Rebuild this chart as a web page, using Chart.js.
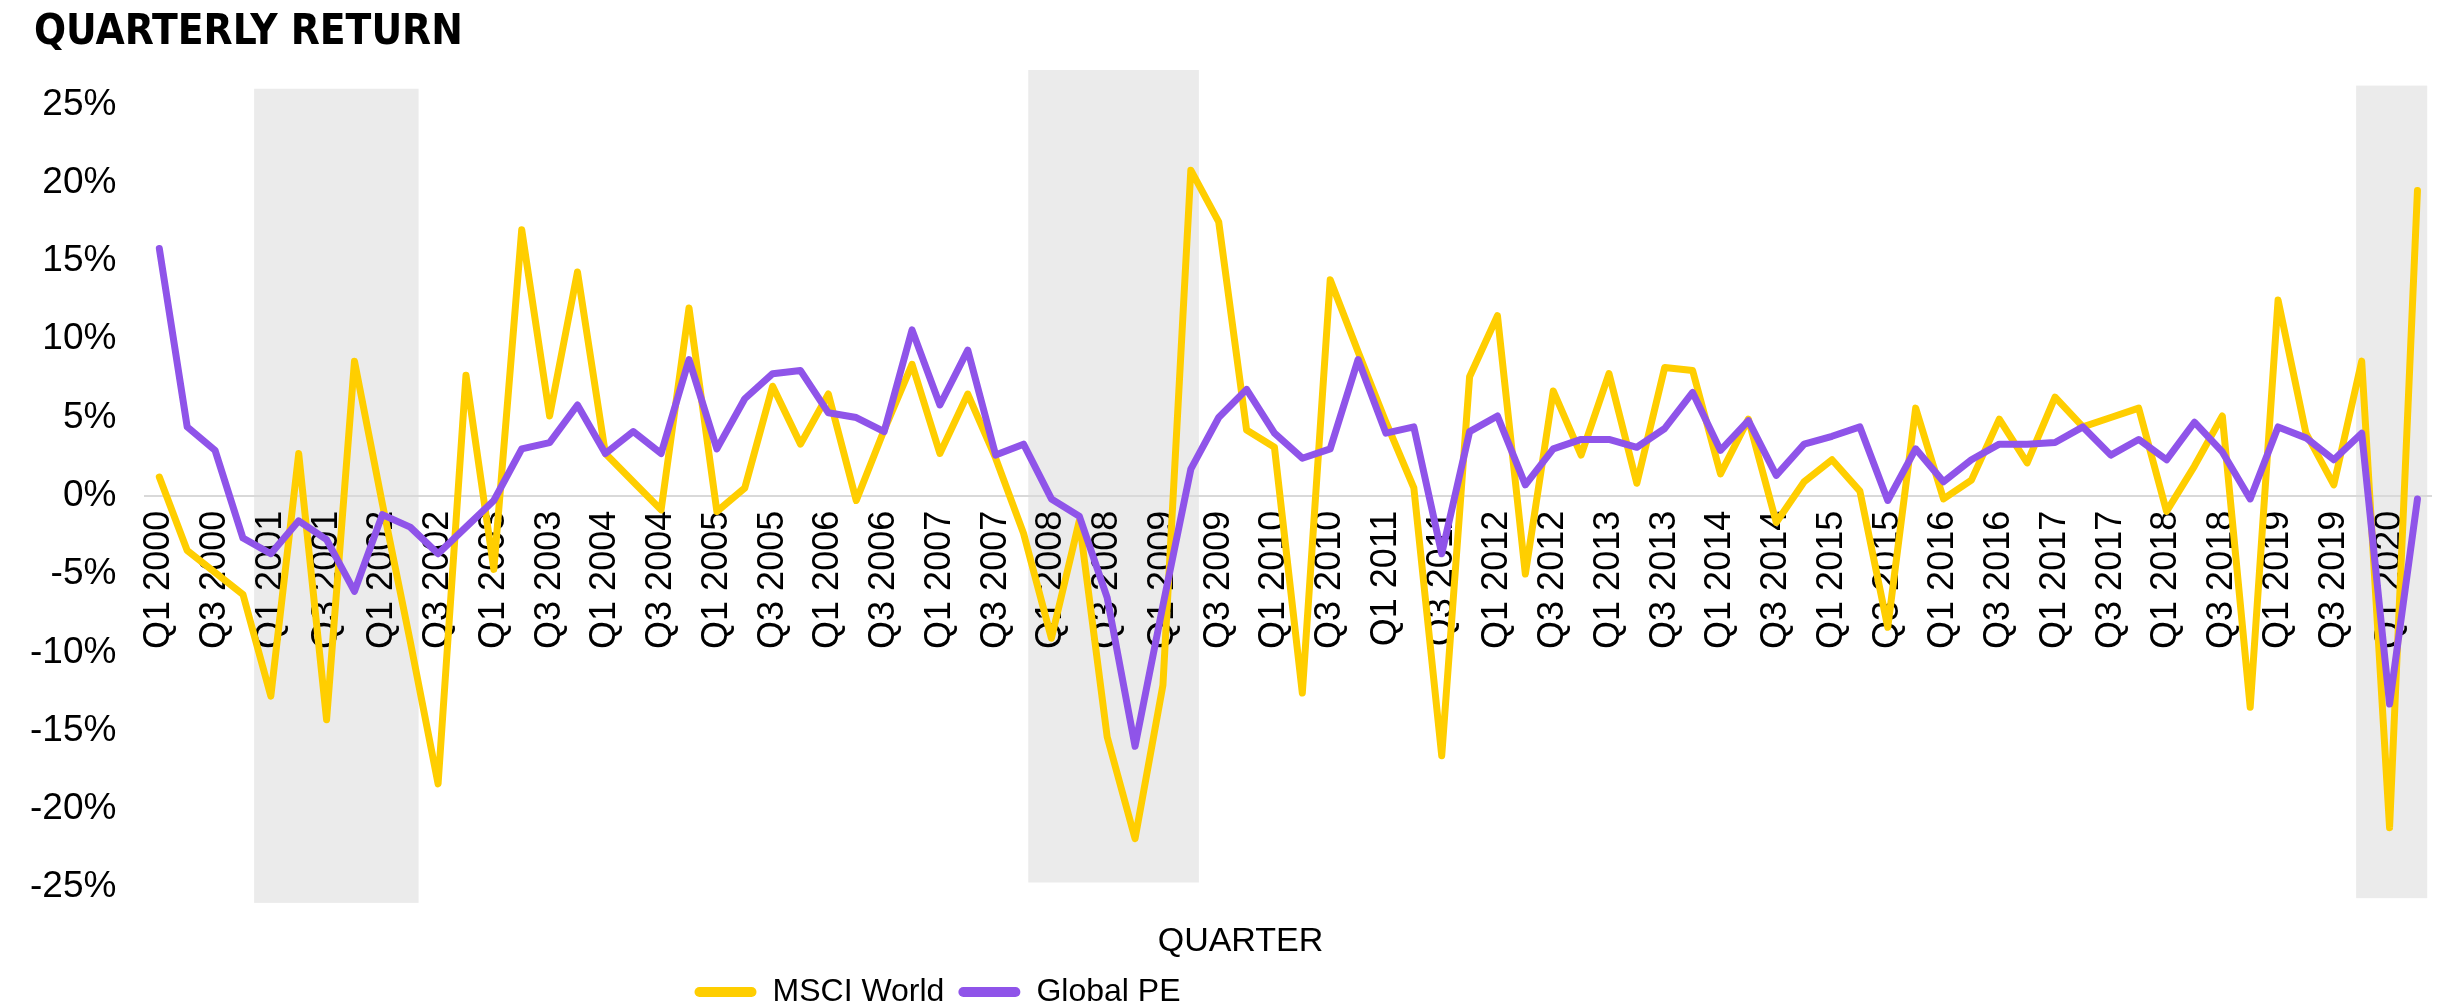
<!DOCTYPE html>
<html>
<head>
<meta charset="utf-8">
<script src="https://cdn.jsdelivr.net/npm/chart.js@4"></script>
<style>
  html, body { margin: 0; padding: 0; background: #fff; }
  #wrap { width: 2448px; height: 1008px; position: relative; }
</style>
</head>
<body>
<div id="wrap"><canvas id="returnsChart"></canvas></div>
<script>
// quarters Q1 2000 .. Q2 2020
const years = [2000, 2001, 2002, 2003, 2004, 2005, 2006, 2007, 2008, 2009, 2010,
  2011, 2012, 2013, 2014, 2015, 2016, 2017, 2018, 2019, 2020];
const quarterNames = ["Q1", "Q2", "Q3", "Q4"];
const quarters = [];
years.forEach(yr => quarterNames.forEach(q => quarters.push(q + " " + yr)));
quarters.length = 82; // series ends at Q2 2020

// quarterly returns in %
const msciWorld = [
  1.2, -3.5, -4.9, -6.3,
  -12.8, 2.7, -14.3, 8.6,
  -0.5, -9.3, -18.4, 7.7,
  -4.7, 17.0, 5.1, 14.3,
  2.7, 0.9, -0.9, 12.0,
  -1.0, 0.5, 7.0, 3.3,
  6.5, -0.3, 4.2, 8.4,
  2.7, 6.5, 2.4, -2.4,
  -9.1, -1.6, -15.4, -21.9,
  -12.1, 20.8, 17.5, 4.2,
  3.1, -12.6, 13.8, 9.2,
  4.7, 0.5, -16.6, 7.6,
  11.5, -5.0, 6.7, 2.6,
  7.8, 0.8, 8.2, 8.0,
  1.4, 4.9, -1.7, 0.9,
  2.3, 0.3, -8.4, 5.6,
  -0.2, 1.0, 4.9, 2.1,
  6.3, 4.4, 5.0, 5.6,
  -1.0, 1.9, 5.1, -13.5,
  12.5, 4.0, 0.7, 8.6,
  -21.2, 19.5
];
const globalPE = [
  15.8, 4.4, 2.9, -2.7,
  -3.7, -1.6, -2.8, -6.1,
  -1.2, -2.0, -3.7, -2.0,
  -0.3, 3.0, 3.4, 5.8,
  2.7, 4.1, 2.7, 8.7,
  3.0, 6.2, 7.8, 8.0,
  5.3, 5.0, 4.1, 10.6,
  5.8, 9.3, 2.6, 3.3,
  -0.2, -1.3, -6.5, -16.0,
  -7.0, 1.7, 5.0, 6.8,
  4.0, 2.4, 3.0, 8.7,
  4.0, 4.4, -3.7, 4.1,
  5.1, 0.7, 3.0, 3.6,
  3.6, 3.1, 4.3, 6.6,
  2.9, 4.8, 1.3, 3.3,
  3.8, 4.4, -0.3, 3.0,
  0.9, 2.3, 3.3, 3.3,
  3.4, 4.4, 2.6, 3.6,
  2.3, 4.7, 2.8, -0.2,
  4.4, 3.7, 2.3, 4.0,
  -13.3, -0.2
];

// shaded recession periods: category position from/to, top/bottom in %
const recessionBands = [
  { from: 3.4, to: 9.3, high: 26, low: -26 },
  { from: 31.17, to: 37.29, high: 27.2, low: -24.7 },
  { from: 78.8, to: 81.35, high: 26.2, low: -25.7 }
];

const yTicks = [-25, -20, -15, -10, -5, 0, 5, 10, 15, 20, 25];

const bandPlugin = {
  id: "recessionBands",
  beforeDraw: (chart) => {
    const ctx = chart.ctx;
    const x = chart.scales.x;
    const y = chart.scales.y;
    ctx.save();
    ctx.fillStyle = "#EBEBEB";
    recessionBands.forEach(b => {
      const left = x.getPixelForValue(b.from);
      const right = x.getPixelForValue(b.to);
      const top = y.getPixelForValue(b.high);
      const bottom = y.getPixelForValue(b.low);
      ctx.fillRect(left, top, right - left, bottom - top);
    });
    ctx.restore();
  }
};

// nudge title / axis caption / legend sideways like in the original
const boxShift = {
  id: "boxShift",
  afterLayout: (chart) => {
    const moves = { "QUARTERLY RETURN": 33, "QUARTER": 22 };
    chart.boxes.forEach(box => {
      const txt = box.options && box.options.text;
      if (moves[txt]) {
        box.left += moves[txt];
        box.right += moves[txt];
      }
    });
    chart.legend.left -= 281;
    chart.legend.right -= 281;
  }
};

const baseFont = '"Liberation Sans", Arial, sans-serif';

new Chart(document.getElementById("returnsChart"), {
  type: "line",
  data: {
    labels: quarters,
    datasets: [
      {
        label: "MSCI World",
        data: msciWorld,
        borderColor: "#FFCE00",
        backgroundColor: "#FFCE00",
        borderWidth: 7,
        pointRadius: 0,
        tension: 0,
        borderCapStyle: "round",
        borderJoinStyle: "round",
        order: 2
      },
      {
        label: "Global PE",
        data: globalPE,
        borderColor: "#8F54E9",
        backgroundColor: "#8F54E9",
        borderWidth: 7,
        pointRadius: 0,
        tension: 0,
        borderCapStyle: "round",
        borderJoinStyle: "round",
        order: 1
      }
    ]
  },
  plugins: [bandPlugin, boxShift],
  options: {
    responsive: true,
    maintainAspectRatio: false,
    animation: false,
    layout: { padding: { left: 1, right: 12, top: 0, bottom: -10 } },
    plugins: {
      tooltip: { enabled: false },
      title: {
        display: true,
        text: "QUARTERLY RETURN",
        align: "start",
        color: "#000",
        font: { family: '"Liberation Sans Narrow", "DejaVu Sans Condensed", sans-serif', size: 42, weight: "bold" },
        padding: { top: 8, bottom: 46 }
      },
      subtitle: {
        display: true,
        text: "QUARTER",
        position: "bottom",
        weight: 500,
        color: "#000",
        font: { family: baseFont, size: 34 },
        padding: { top: 34, bottom: 0 }
      },
      legend: {
        position: "bottom",
        align: "center",
        labels: {
          color: "#000",
          font: { family: baseFont, size: 32 },
          boxWidth: 62,
          boxHeight: 10,
          padding: 14,
          useBorderRadius: true,
          borderRadius: 5,
          sort: (a, b) => a.datasetIndex - b.datasetIndex,
          generateLabels: function (chart) {
            const items = Chart.defaults.plugins.legend.labels.generateLabels(chart);
            return items.map(it => Object.assign(it, {
              fillStyle: it.strokeStyle,
              lineWidth: 0,
              borderRadius: 5
            }));
          }
        }
      }
    },
    scales: {
      x: {
        position: { y: 0 },
        offset: true,
        grid: { display: false, drawTicks: false },
        border: { display: true, color: "#D9D9D9", width: 2 },
        ticks: {
          autoSkip: false,
          minRotation: 90,
          maxRotation: 90,
          padding: 15,
          color: "#000",
          font: { family: baseFont, size: 36 },
          callback: function (value, index) {
            return index % 2 === 0 ? this.getLabelForValue(value) : null;
          }
        }
      },
      y: {
        min: -25,
        max: 25,
        grid: { display: false, drawTicks: false },
        border: { display: false },
        afterBuildTicks: (axis) => { axis.ticks = yTicks.map(v => ({ value: v })); },
        ticks: {
          padding: 29,
          color: "#000",
          font: { family: baseFont, size: 37 },
          callback: (v) => v + "%"
        }
      }
    }
  }
});
</script>
</body>
</html>
